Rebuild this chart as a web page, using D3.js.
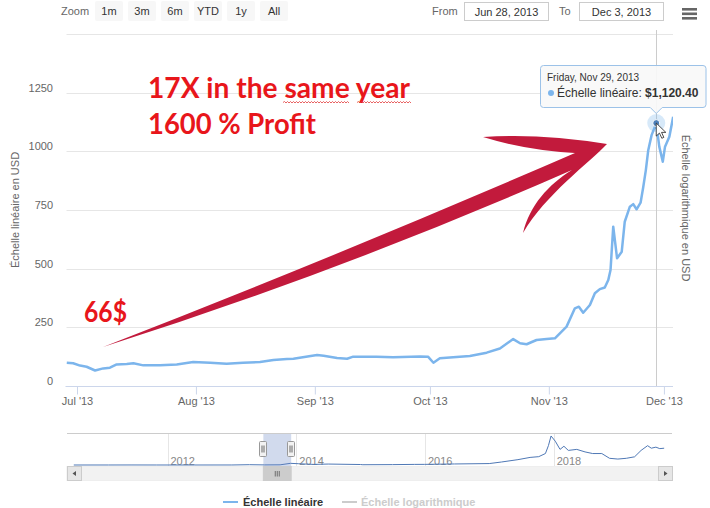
<!DOCTYPE html>
<html><head><meta charset="utf-8">
<script src="https://cdn.jsdelivr.net/npm/d3@7"></script>
<style>
html,body{margin:0;padding:0;background:#fff;}
svg{display:block;font-family:"Liberation Sans",Arial,sans-serif;}
</style></head><body>
<svg id="chart" width="710" height="508"></svg>
<script>
// ---------- DATA ----------
const mainDates = ["2013-06-28 08","2013-06-30 00","2013-07-01 19","2013-07-03 12","2013-07-05 17","2013-07-07 20","2013-07-09 14","2013-07-11 08","2013-07-13 23","2013-07-15 17","2013-07-18 07","2013-07-22 15","2013-07-27 00","2013-07-31 07","2013-08-04 17","2013-08-09 00","2013-08-13 07","2013-08-17 17","2013-08-21 05","2013-08-24 17","2013-08-26 10","2013-08-30 22","2013-09-01 14","2013-09-03 07","2013-09-06 19","2013-09-09 10","2013-09-11 00","2013-09-17 02","2013-09-21 10","2013-09-28 10","2013-09-30 12","2013-10-01 22","2013-10-03 14","2013-10-11 10","2013-10-15 19","2013-10-19 06","2013-10-22 17","2013-10-24 12","2013-10-26 05","2013-10-28 19","2013-10-31 10","2013-11-02 14","2013-11-05 15","2013-11-07 19","2013-11-08 20","2013-11-09 23","2013-11-11 17","2013-11-13 00","2013-11-14 07","2013-11-15 14","2013-11-16 12","2013-11-17 02","2013-11-17 19","2013-11-18 19","2013-11-20 00","2013-11-20 19","2013-11-22 03","2013-11-23 00","2013-11-23 21","2013-11-24 22","2013-11-25 14","2013-11-26 07","2013-11-26 22","2013-11-27 19","2013-11-29 00","2013-11-29 19","2013-11-30 17","2013-12-01 07","2013-12-02 10","2013-12-03 10"];
const mainValues = [99,97,87,82,66,75,78,92,94,97,88,88,92,102,99,95,99,102,111,115,116,128,132,129,119,116,125,125,122,126,125,99,118,128,142,160,200,182,178,196,200,203,253,331,338,312,345,395,413,420,452,494,679,544,572,700,764,775,753,781,845,920,1005,1069,1120.40,1020,956,1020,1062,1147];

const navDates = ["2010-07-18","2011-02-01","2011-06-08","2011-11-01","2012-06-01","2012-12-31","2013-04-10","2013-07-05","2013-10-01","2013-11-29","2014-01-15","2014-04-10","2014-07-01","2014-12-31","2015-01-14","2015-07-01","2015-11-04","2015-12-31","2016-06-17","2016-12-31","2017-03-10","2017-06-12","2017-08-20","2017-10-08","2017-11-15","2017-12-02","2017-12-17","2018-01-10","2018-02-06","2018-02-28","2018-03-25","2018-05-12","2018-06-28","2018-08-10","2018-10-01","2018-11-14","2018-12-31","2019-02-17","2019-04-05","2019-05-12","2019-06-18","2019-07-09","2019-08-04","2019-08-26","2019-09-20"];
const navValues = [0.1,1,25,3,6,13,200,70,125,1120,850,400,640,320,180,260,400,430,700,960,2000,3600,5100,5600,7700,13000,19500,16000,10500,12600,9800,10500,8800,7700,7700,4500,4000,4500,5500,9800,13000,11300,12000,11000,11300];

const yGridValues = [0,250,500,750,1000,1250,1500];
const yLabelValues = [0,250,500,750,1000,1250];
const xTickDates = ["2013-07-01","2013-08-01","2013-09-01","2013-10-01","2013-11-01","2013-12-01"];
const xTickLabels = ["Jul '13","Aug '13","Sep '13","Oct '13","Nov '13","Dec '13"];
const zoomButtons = ["1m","3m","6m","YTD","1y","All"];
const navYears = [2012,2014,2016,2018];
const seriesNames = ["Échelle linéaire","Échelle logarithmique"];
const axisTitles = ["Échelle linéaire en USD","Échelle logarithmique en USD"];
const annotations = ["17X in the same year","1600 % Profit","66$"];
const hoverDate = "2013-11-29 00";
const rangeStart = "2013-06-28", rangeEnd = "2013-12-03";

// ---------- SETUP ----------
const svg = d3.select("#chart");
const parseH = d3.utcParse("%Y-%m-%d %H");
const parseD = d3.utcParse("%Y-%m-%d");
const mainData = mainDates.map((d,i)=>({date:parseH(d), value:mainValues[i]}));
const navData = navDates.map((d,i)=>({date:parseD(d), value:navValues[i]}));

const L = 65.5, R = 673, T = 34, B = 386;
const x = d3.scaleUtc().domain([parseD(rangeStart), d3.utcHour.offset(parseD(rangeEnd), 12)]).range([L, 673.5]);
const y = d3.scaleLinear().domain([0,1500]).range([B, T]);
const gray = "#666";

// ---------- TOP BAR ----------
svg.append("text").attr("x",61).attr("y",15).attr("font-size",11).attr("fill",gray).text("Zoom");
const btn = svg.append("g").selectAll("g").data(zoomButtons).join("g")
  .attr("transform",(d,i)=>`translate(${95+i*33},1)`);
btn.append("rect").attr("width",28).attr("height",20).attr("rx",2).attr("fill","#f7f7f7");
btn.append("text").attr("x",14).attr("y",14).attr("text-anchor","middle").attr("font-size",11).attr("fill","#333").text(d=>d);

const fmtInput = d3.utcFormat("%b %-d, %Y");
svg.append("text").attr("x",432).attr("y",15).attr("font-size",11).attr("fill",gray).text("From");
svg.append("rect").attr("x",464.5).attr("y",2.5).attr("width",84).attr("height",18).attr("fill","#fff").attr("stroke","#ccc");
svg.append("text").attr("x",506.5).attr("y",15.5).attr("text-anchor","middle").attr("font-size",11).attr("fill","#333").text(fmtInput(parseD(rangeStart)));
svg.append("text").attr("x",559).attr("y",15).attr("font-size",11).attr("fill",gray).text("To");
svg.append("rect").attr("x",579.5).attr("y",2.5).attr("width",84).attr("height",18).attr("fill","#fff").attr("stroke","#ccc");
svg.append("text").attr("x",621.5).attr("y",15.5).attr("text-anchor","middle").attr("font-size",11).attr("fill","#333").text(fmtInput(parseD(rangeEnd)));
[8,12.5,17].forEach(yy=>svg.append("rect").attr("x",682).attr("y",yy).attr("width",15).attr("height",2.6).attr("fill",gray));

// ---------- GRID & AXES ----------
svg.append("g").selectAll("line").data(yGridValues).join("line")
  .attr("x1",L+1).attr("x2",R).attr("y1",d=>Math.round(y(d))+0.5).attr("y2",d=>Math.round(y(d))+0.5)
  .attr("stroke","#e6e6e6");
svg.append("g").selectAll("text").data(yLabelValues).join("text")
  .attr("x",53).attr("y",d=>y(d)-1).attr("text-anchor","end").attr("font-size",11).attr("fill",gray).text(d=>d);

const xAxis = d3.axisBottom(x).tickValues(xTickDates.map(parseD)).tickFormat((d,i)=>xTickLabels[i]).tickSize(8).tickSizeOuter(0);
const gx = svg.append("g").attr("transform",`translate(0,${B+0.5})`).call(xAxis);
gx.select(".domain").attr("stroke","#ccd6eb").attr("d",`M${L},0H${R}`);
gx.selectAll(".tick line").attr("stroke","#ccd6eb");
gx.selectAll(".tick text").attr("fill",gray).attr("font-size",11).attr("font-family","Liberation Sans, Arial, sans-serif");

svg.append("text").attr("transform","translate(19,210) rotate(-90)").attr("text-anchor","middle")
  .attr("font-size",11).attr("fill",gray).text(axisTitles[0]);
svg.append("text").attr("transform","translate(682,208) rotate(90)").attr("text-anchor","middle")
  .attr("font-size",11).attr("fill",gray).text(axisTitles[1]);

// crosshair
const hd = parseH(hoverDate);
const hv = mainData.find(d=>+d.date===+hd).value;
svg.append("line").attr("x1",Math.round(x(hd))+0.5).attr("x2",Math.round(x(hd))+0.5).attr("y1",T-4).attr("y2",B).attr("stroke","#cccccc");

// ---------- MAIN SERIES ----------
svg.append("clipPath").attr("id","plotclip").append("rect").attr("x",L).attr("y",0).attr("width",R-L).attr("height",B);
svg.append("path").datum(mainData).attr("clip-path","url(#plotclip)")
  .attr("fill","none").attr("stroke","#7cb5ec").attr("stroke-width",2.5).attr("stroke-linejoin","round")
  .attr("d",d3.line().x(d=>x(d.date)).y(d=>y(d.value)));

// ---------- ANNOTATIONS ----------
const red = "#e8161b";
svg.append("path").attr("fill","#c21a3c")
  .attr("d","M103,347 Q340,255 575,153 Q525,150 483,137 Q540,133 607,144 C590,162 545,195 523,233 C530,205 548,185 572,170 Q340,272 103,347 Z");
const annFont = "Lato, 'Open Sans', sans-serif";
svg.append("text").attr("x",148).attr("y",98).attr("font-family",annFont).attr("font-weight",700).attr("font-size",28)
  .attr("fill",red).attr("textLength",262).attr("lengthAdjust","spacingAndGlyphs").text(annotations[0]);
svg.append("text").attr("x",148).attr("y",134).attr("font-family",annFont).attr("font-weight",700).attr("font-size",28)
  .attr("fill",red).attr("textLength",168).attr("lengthAdjust","spacingAndGlyphs").text(annotations[1]);
svg.append("text").attr("x",84).attr("y",322).attr("font-family",annFont).attr("font-weight",700).attr("font-size",28)
  .attr("fill",red).attr("textLength",43).attr("lengthAdjust","spacingAndGlyphs").text(annotations[2]);
// spell-check squiggles
function squiggle(x0,x1,yy){let p=`M${x0},${yy}`;let up=true;for(let xx=x0+1.5;xx<=x1;xx+=1.5){p+=`L${xx},${yy+(up?-1:0.5)}`;up=!up;}return p;}
svg.append("path").attr("d",squiggle(283,350,102.5)+squiggle(357,411,102.5)).attr("fill","none").attr("stroke","#e23b3b").attr("stroke-width",0.8);

// ---------- TOOLTIP / HOVER ----------
const hx = x(hd), hy = y(hv);
svg.append("circle").attr("cx",hx).attr("cy",hy).attr("r",9).attr("fill","#7cb5ec").attr("opacity",0.3);
svg.append("circle").attr("cx",hx).attr("cy",hy).attr("r",3.5).attr("fill","#4d7fb8").attr("stroke","#fff").attr("stroke-width",1);
const tx0=540.5, tx1=706, ty0=65.5, ty1=107.5;
svg.append("path").attr("fill","rgba(249,249,249,0.92)").attr("stroke","#9cc2e8").attr("stroke-width",1)
  .attr("d",`M${tx0+3},${ty0}H${tx1-3}Q${tx1},${ty0} ${tx1},${ty0+3}V${ty1-3}Q${tx1},${ty1} ${tx1-3},${ty1}H${hx+6}L${hx},${ty1+6}L${hx-6},${ty1}H${tx0+3}Q${tx0},${ty1} ${tx0},${ty1-3}V${ty0+3}Q${tx0},${ty0} ${tx0+3},${ty0}Z`);
svg.append("text").attr("x",547).attr("y",81).attr("font-size",10).attr("fill","#333").text(d3.utcFormat("%A, %b %d, %Y")(hd));
svg.append("circle").attr("cx",551).attr("cy",93).attr("r",3).attr("fill","#7cb5ec");
const t2 = svg.append("text").attr("x",557).attr("y",97).attr("font-size",12).attr("fill","#333");
t2.append("tspan").text(seriesNames[0]+": ");
t2.append("tspan").attr("font-weight","bold").text(d3.format("$,.2f")(hv));
// mouse cursor
svg.append("path").attr("transform",`translate(${hx},${hy})`).attr("fill","#fff").attr("stroke","#222").attr("stroke-width",0.8)
  .attr("d","M0,0L0,13L3.2,10L5.6,15.2L7.6,14.3L5.3,9.3L9.6,9.3Z");

// ---------- NAVIGATOR ----------
const nT = 433.5, nB = 466;
const nx = d3.scaleUtc().domain([parseD("2012-01-01"), parseD("2018-01-01")]).range([167.5, 553.7]);
const ny = d3.scaleLinear().domain([0,20500]).range([nB-1, nT+1]);
svg.append("g").selectAll("line").data(navYears).join("line")
  .attr("x1",d=>Math.round(nx(parseD(d+"-01-01")))+0.5).attr("x2",d=>Math.round(nx(parseD(d+"-01-01")))+0.5)
  .attr("y1",nT).attr("y2",nB).attr("stroke","#e6e6e6");
svg.append("g").selectAll("text").data(navYears).join("text")
  .attr("x",d=>nx(parseD(d+"-01-01"))+3).attr("y",nB-1.5).attr("font-size",11).attr("fill","#888").text(d=>d);
svg.append("clipPath").attr("id","navclip").append("rect").attr("x",67).attr("y",nT).attr("width",605).attr("height",nB-nT);
svg.append("path").datum(navData).attr("clip-path","url(#navclip)").attr("fill","none").attr("stroke","#4f78b5").attr("stroke-width",1)
  .attr("d",d3.line().x(d=>nx(d.date)).y(d=>ny(d.value)));
const s0 = nx(parseD(rangeStart)), s1 = nx(parseD(rangeEnd));
svg.append("rect").attr("x",s0).attr("y",nT).attr("width",s1-s0).attr("height",nB-nT).attr("fill","rgba(102,133,194,0.3)");
svg.append("line").attr("x1",67).attr("x2",672).attr("y1",nT).attr("y2",nT).attr("stroke","#cccccc");
[s0,s1].forEach(hxp=>{
  const g = svg.append("g").attr("transform",`translate(${Math.round(hxp)-3.5},441.5)`);
  g.append("rect").attr("width",7).attr("height",15).attr("rx",1).attr("fill","#f2f2f2").attr("stroke","#999");
  g.append("line").attr("x1",2.5).attr("x2",2.5).attr("y1",4).attr("y2",11).attr("stroke","#666");
  g.append("line").attr("x1",4.5).attr("x2",4.5).attr("y1",4).attr("y2",11).attr("stroke","#666");
});
// scrollbar
svg.append("rect").attr("x",67).attr("y",466.5).attr("width",605).attr("height",14).attr("fill","#f2f2f2").attr("stroke","#eeeeee");
svg.append("rect").attr("x",s0).attr("y",466.5).attr("width",s1-s0).attr("height",14).attr("fill","#cccccc").attr("stroke","#cccccc");
[-2,0,2].forEach(o=>svg.append("line").attr("x1",(s0+s1)/2+o).attr("x2",(s0+s1)/2+o).attr("y1",471).attr("y2",476.5).attr("stroke","#555").attr("stroke-width",0.8));
[[67,-1],[658,1]].forEach(([bx,dir])=>{
  svg.append("rect").attr("x",bx+0.5).attr("y",466.5).attr("width",14).attr("height",14).attr("fill","#e6e6e6").attr("stroke","#cccccc");
  const cx=bx+7.5, cy=473.5;
  svg.append("path").attr("fill","#555").attr("d",`M${cx+dir*2},${cy}L${cx-dir*1.5},${cy-2.5}L${cx-dir*1.5},${cy+2.5}Z`);
});

// ---------- LEGEND ----------
svg.append("line").attr("x1",223).attr("x2",238).attr("y1",502).attr("y2",502).attr("stroke","#7cb5ec").attr("stroke-width",2);
svg.append("text").attr("x",243).attr("y",506).attr("font-size",11).attr("font-weight","bold").attr("fill","#333").text(seriesNames[0]);
svg.append("line").attr("x1",342).attr("x2",357).attr("y1",502).attr("y2",502).attr("stroke","#cccccc").attr("stroke-width",2);
svg.append("text").attr("x",361).attr("y",506).attr("font-size",11).attr("font-weight","bold").attr("fill","#cccccc").text(seriesNames[1]);
</script>
</body></html>
